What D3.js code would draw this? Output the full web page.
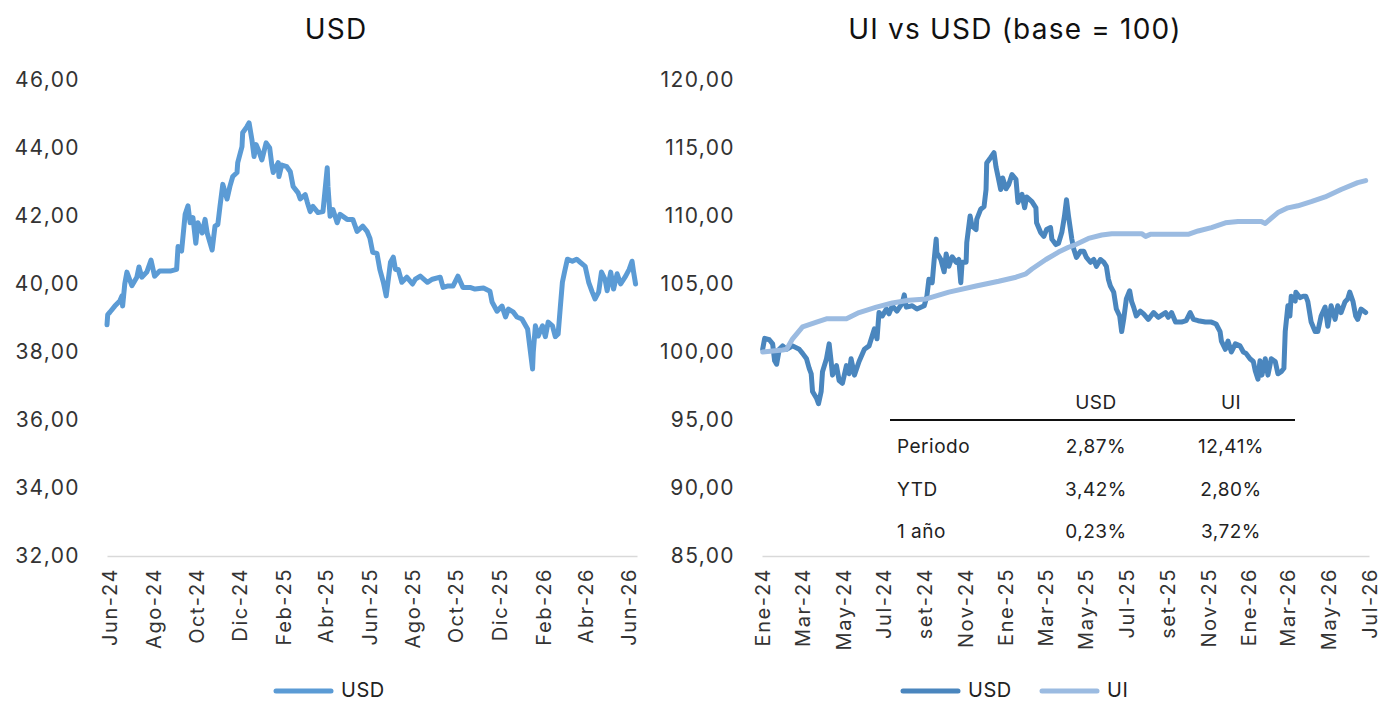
<!DOCTYPE html>
<html lang="es">

<head>
  <meta charset="UTF-8">
  <title>USD y UI vs USD</title>
  <script src="https://d3js.org/d3.v7.min.js"></script>
  <style>
    body {
      margin: 0;
      background: #fff;
    }

    text {
      font-family: Inter, "Noto Sans", sans-serif;
    }

    .title {
      font-size: 28px;
      fill: #111;
      letter-spacing: 1.2px;
    }

    .axis text {
      font-size: 21px;
      fill: #333;
      letter-spacing: 1.4px;
    }

    .x-axis text {
      font-size: 20px;
      letter-spacing: 1.6px;
    }

    .legend-label,
    .table-text {
      font-size: 19px;
      fill: #222;
      letter-spacing: 0.5px;
    }

    .legend-label {
      font-size: 20px;
    }
  </style>
</head>

<body>
  <div id="chart"></div>

  <script>
    // USD (pesos por dolar) - dias desde 2024-06-01
    const usdDays = [-4, -3, 0, 7, 14, 17, 18, 21, 24, 31, 38, 41, 45, 52, 58, 63, 70, 85, 94, 96,
      101, 106, 110, 113, 117, 121, 124, 130, 134, 137, 144, 148, 152, 155, 159, 165, 169, 173, 179, 180,
      186, 187, 193, 196, 200, 203, 206, 209, 214, 220, 225, 228, 230, 237, 238, 242, 249, 254, 258, 265,
      268, 275, 278, 282, 286, 293, 300, 306, 307, 310, 314, 320, 324, 334, 342, 348, 356, 362, 366, 370,
      376, 380, 385, 389, 392, 395, 399, 402, 406, 411, 418, 426, 430, 437, 447, 454, 465, 469, 475, 483,
      490, 497, 507, 514, 526, 535, 538, 545, 552, 557, 561, 568, 573, 580, 588, 595, 596, 599, 603, 609,
      613, 617, 623, 627, 631, 634, 637, 640, 644, 651, 657, 662, 669, 674, 679, 683, 688, 692, 697, 700,
      705, 709, 714, 719, 726, 731, 735, 737, 740];
    const usdValues = [38.8, 39.1, 39.17, 39.35, 39.5, 39.65, 39.35, 40.0, 40.35, 39.95, 40.2, 40.5, 40.2, 40.35, 40.7, 40.23, 40.38, 40.38, 40.43, 41.1,
      40.97, 42.05, 42.3, 41.8, 41.95, 41.2, 41.8, 41.5, 41.9, 41.5, 41.0, 41.7, 41.75, 42.28, 42.93, 42.5, 42.87, 43.16, 43.28, 43.57,
      44.04, 44.45, 44.63, 44.74, 44.24, 43.75, 44.1, 43.95, 43.65, 44.15, 44.0, 43.5, 43.28, 43.57, 43.16, 43.5, 43.45, 43.3, 42.87, 42.68,
      42.5, 42.63, 42.4, 42.13, 42.28, 42.1, 42.13, 43.42, 42.87, 41.99, 42.19, 41.8, 42.05, 41.9, 41.9, 41.55, 41.7, 41.55, 41.35, 40.93,
      40.9, 40.43, 40.05, 39.65, 40.14, 40.64, 40.79, 40.43, 40.43, 40.05, 40.2, 40.0, 40.14, 40.23, 40.05, 40.14, 40.2, 39.9, 39.94, 39.94,
      40.23, 39.9, 39.9, 39.85, 39.88, 39.79, 39.47, 39.2, 39.35, 39.03, 39.26, 39.17, 39.03, 38.97, 38.68, 37.5, 38.0, 38.77, 38.47, 38.77,
      38.45, 38.88, 38.77, 38.45, 38.53, 39.3, 40.05, 40.35, 40.73, 40.67, 40.73, 40.64, 40.52, 40.05, 39.76, 39.56, 39.76, 40.35, 40.14, 39.8,
      40.35, 39.85, 40.3, 40.0, 40.23, 40.43, 40.67, 40.38, 40.0];

    // UI vs USD (base = 100) - dias desde 2024-01-01
    const baseUsdDays = [0, 3, 10, 15, 18, 21, 25, 30, 36, 45, 55, 60, 66, 70, 73, 75, 81, 84, 88, 90,
      96, 100, 103, 105, 111, 115, 120, 126, 130, 133, 138, 145, 153, 160, 168, 172, 175, 180, 186, 190,
      195, 202, 210, 213, 216, 225, 232, 243, 247, 250, 255, 258, 261, 262, 268, 273, 276, 280, 285, 291,
      295, 298, 300, 306, 307, 312, 315, 321, 322, 328, 333, 336, 337, 343, 348, 351, 354, 358, 361, 366,
      370, 375, 381, 384, 390, 394, 397, 405, 411, 412, 418, 423, 427, 433, 435, 441, 445, 450, 454, 457,
      460, 465, 468, 472, 478, 483, 487, 493, 498, 502, 508, 513, 517, 520, 523, 528, 532, 537, 540, 543,
      547, 552, 555, 558, 562, 568, 573, 580, 588, 595, 606, 610, 615, 621, 630, 637, 643, 648, 655, 666,
      675, 682, 688, 690, 696, 700, 705, 711, 718, 723, 727, 733, 738, 741, 745, 748, 751, 756, 760, 765,
      771, 775, 780, 784, 786, 790, 793, 795, 801, 802, 808, 813, 817, 820, 825, 831, 835, 840, 846, 850,
      855, 861, 865, 870, 876, 880, 883, 888, 892, 895, 900, 907];
    const baseUsdValues = [100.2, 101.0, 100.9, 100.6, 99.35, 99.1, 100.2, 100.45, 100.2, 100.45, 100.2, 99.9, 99.5, 98.8, 98.4, 97.1, 96.6, 96.2, 97.1, 98.55,
      99.5, 100.6, 99.3, 98.3, 99.0, 97.9, 97.7, 99.0, 98.4, 99.5, 98.3, 99.3, 100.2, 100.45, 101.7, 100.97, 102.9, 102.65, 103.16, 102.8,
      103.4, 103.0, 103.6, 104.2, 103.3, 103.4, 103.16, 103.4, 104.1, 105.35, 105.1, 106.8, 108.3, 107.3, 106.8, 105.9, 107.2, 106.3, 107.0, 106.6,
      106.8, 105.1, 106.6, 106.6, 108.05, 110.0, 109.25, 109.0, 109.75, 110.5, 110.7, 111.95, 113.9, 114.3, 114.65, 113.6, 112.9, 111.95, 112.8, 112.0,
      112.3, 113.05, 112.7, 111.0, 111.6, 110.6, 111.4, 111.05, 110.6, 109.5, 108.8, 108.5, 109.0, 109.15, 108.3, 107.9, 108.0, 108.8, 110.0, 111.2,
      110.0, 108.3, 107.55, 106.95, 107.4, 107.4, 106.95, 106.6, 106.8, 106.3, 106.8, 106.6, 106.3, 105.35, 104.85, 104.4, 103.16, 102.65, 101.5, 102.4,
      103.9, 104.5, 103.7, 103.3, 102.65, 103.0, 102.8, 102.4, 102.9, 102.55, 102.9, 102.55, 102.9, 102.2, 102.2, 102.3, 102.9, 102.4, 102.3, 102.2,
      102.2, 102.06, 101.5, 100.8, 100.2, 100.8, 100.0, 100.6, 100.45, 100.0, 99.9, 99.5, 99.3, 98.6, 98.0, 99.35, 98.3, 99.5, 98.3, 99.5,
      99.3, 98.4, 98.55, 98.8, 101.5, 103.4, 102.65, 104.1, 103.75, 104.4, 104.0, 104.1, 104.1, 103.7, 102.2, 101.5, 101.5, 102.65, 103.3, 101.9,
      103.4, 102.4, 103.4, 102.9, 103.7, 103.9, 104.4, 103.7, 102.65, 102.4, 103.16, 102.9];
    const uiDays = [0, 30, 36, 45, 60, 81, 97, 126, 145, 171, 195, 220, 246, 280, 321, 355, 381, 396, 405, 426,
      445, 460, 471, 490, 510, 525, 570, 576, 583, 640, 655, 675, 696, 715, 750, 756, 763, 775, 790, 805,
      825, 846, 870, 895, 907];
    const uiValues = [100.0, 100.15, 100.2, 100.97, 101.85, 102.2, 102.45, 102.45, 102.9, 103.3, 103.6, 103.8, 103.9, 104.4, 104.85, 105.2, 105.5, 105.75, 106.1, 106.8,
      107.35, 107.7, 107.9, 108.35, 108.6, 108.7, 108.7, 108.5, 108.65, 108.65, 108.9, 109.15, 109.5, 109.6, 109.6, 109.45, 109.75, 110.25, 110.6, 110.75,
      111.05, 111.4, 111.95, 112.45, 112.6];

    const leftTickLabels = ["Jun-24", "Ago-24", "Oct-24", "Dic-24", "Feb-25", "Abr-25", "Jun-25",
      "Ago-25", "Oct-25", "Dic-25", "Feb-26", "Abr-26", "Jun-26"];
    const rightTickLabels = ["Ene-24", "Mar-24", "May-24", "Jul-24", "set-24", "Nov-24", "Ene-25", "Mar-25",
      "May-25", "Jul-25", "set-25", "Nov-25", "Ene-26", "Mar-26", "May-26", "Jul-26"];
    const leftYTicks = [32, 34, 36, 38, 40, 42, 44, 46];
    const rightYTicks = [85, 90, 95, 100, 105, 110, 115, 120];

    const tableCols = ["USD", "UI"];
    const tableRows = ["Periodo", "YTD", "1 año"];
    const tableUsd = ["2,87%", "3,42%", "0,23%"];
    const tableUi = ["12,41%", "2,80%", "3,72%"];

    const width = 1380;
    const height = 702;
    const plotTop = 80, plotBottom = 556;

    const svg = d3.select("#chart")
      .append("svg")
      .attr("width", width)
      .attr("height", height);

    const leftStart = new Date(2024, 5, 1);
    const rightStart = new Date(2024, 0, 1);
    const comma = d => d.toFixed(2).replace(".", ",");

    function drawChart(opts) {
      const x = d3.scaleTime()
        .domain(opts.domain)
        .range([opts.x0, opts.x1]);
      const y = d3.scaleLinear()
        .domain([opts.yTicks[0], opts.yTicks[opts.yTicks.length - 1]])
        .range([plotBottom, plotTop]);

      // titulo
      svg.append("text")
        .attr("class", "title")
        .attr("text-anchor", "middle")
        .attr("x", opts.titleX)
        .attr("y", 39)
        .text(opts.title);

      // eje Y
      const yAxis = svg.append("g")
        .attr("class", "axis")
        .attr("transform", `translate(${opts.x0},0)`)
        .call(d3.axisLeft(y).tickValues(opts.yTicks).tickFormat(comma).tickSize(0).tickPadding(27));
      yAxis.select(".domain").remove();

      // eje X
      const tickDates = opts.tickLabels.map((d, i) => d3.timeMonth.offset(opts.firstTick, i * 2));
      const xAxis = svg.append("g")
        .attr("class", "axis x-axis")
        .attr("transform", `translate(0,${plotBottom})`)
        .call(d3.axisBottom(x).tickValues(tickDates).tickFormat((d, i) => opts.tickLabels[i]).tickSize(0));
      xAxis.select(".domain")
        .attr("stroke", "#d9d9d9")
        .attr("stroke-width", 1.5);
      xAxis.selectAll("text")
        .attr("transform", "rotate(-90)")
        .attr("text-anchor", "end")
        .attr("x", -12)
        .attr("y", 0)
        .attr("dy", "0.35em");

      // lineas
      const line = d3.line()
        .x(d => x(d.date))
        .y(d => y(d.value));

      opts.series.forEach(s => {
        const data = s.days.map((d, i) => ({ date: d3.timeDay.offset(opts.start, d), value: s.values[i] }));
        svg.append("path")
          .datum(data)
          .attr("fill", "none")
          .attr("stroke", s.color)
          .attr("stroke-width", 5)
          .attr("stroke-linejoin", "round")
          .attr("stroke-linecap", "round")
          .attr("d", line);
      });

      // leyenda
      opts.series.forEach(s => {
        svg.append("line")
          .attr("x1", s.legendX)
          .attr("x2", s.legendX + 55)
          .attr("y1", 691)
          .attr("y2", 691)
          .attr("stroke", s.color)
          .attr("stroke-width", 5)
          .attr("stroke-linecap", "round");
        svg.append("text")
          .attr("class", "legend-label")
          .attr("x", s.legendX + 65)
          .attr("y", 697)
          .text(s.name);
      });
    }

    drawChart({
      title: "USD",
      titleX: 336,
      x0: 107,
      x1: 637,
      start: leftStart,
      domain: [new Date(2024, 4, 28), new Date(2026, 5, 13)],
      firstTick: new Date(2024, 5, 1),
      tickLabels: leftTickLabels,
      yTicks: leftYTicks,
      series: [
        { name: "USD", days: usdDays, values: usdValues, color: "#5b9bd5", legendX: 276 }
      ]
    });

    drawChart({
      title: "UI vs USD (base = 100)",
      titleX: 1015,
      x0: 762,
      x1: 1369,
      start: rightStart,
      domain: [new Date(2023, 11, 31), new Date(2026, 6, 1)],
      firstTick: new Date(2024, 0, 1),
      tickLabels: rightTickLabels,
      yTicks: rightYTicks,
      series: [
        { name: "USD", days: baseUsdDays, values: baseUsdValues, color: "#4a86be", legendX: 903 },
        { name: "UI", days: uiDays, values: uiValues, color: "#9bbbe1", legendX: 1042 }
      ]
    });

    // tabla de variaciones
    const table = svg.append("g").attr("class", "table");
    const colX = [1096, 1231];
    const rowY = [453, 496, 538];

    table.append("line")
      .attr("x1", 890)
      .attr("x2", 1295)
      .attr("y1", 420)
      .attr("y2", 420)
      .attr("stroke", "#111")
      .attr("stroke-width", 2);

    table.selectAll(".col-head")
      .data(tableCols)
      .enter()
      .append("text")
      .attr("class", "table-text")
      .attr("text-anchor", "middle")
      .attr("x", (d, i) => colX[i])
      .attr("y", 409)
      .text(d => d);

    tableRows.forEach((r, i) => {
      table.append("text")
        .attr("class", "table-text")
        .attr("x", 897)
        .attr("y", rowY[i])
        .text(r);
      table.append("text")
        .attr("class", "table-text")
        .attr("text-anchor", "middle")
        .attr("x", colX[0])
        .attr("y", rowY[i])
        .text(tableUsd[i]);
      table.append("text")
        .attr("class", "table-text")
        .attr("text-anchor", "middle")
        .attr("x", colX[1])
        .attr("y", rowY[i])
        .text(tableUi[i]);
    });
  </script>
</body>

</html>
